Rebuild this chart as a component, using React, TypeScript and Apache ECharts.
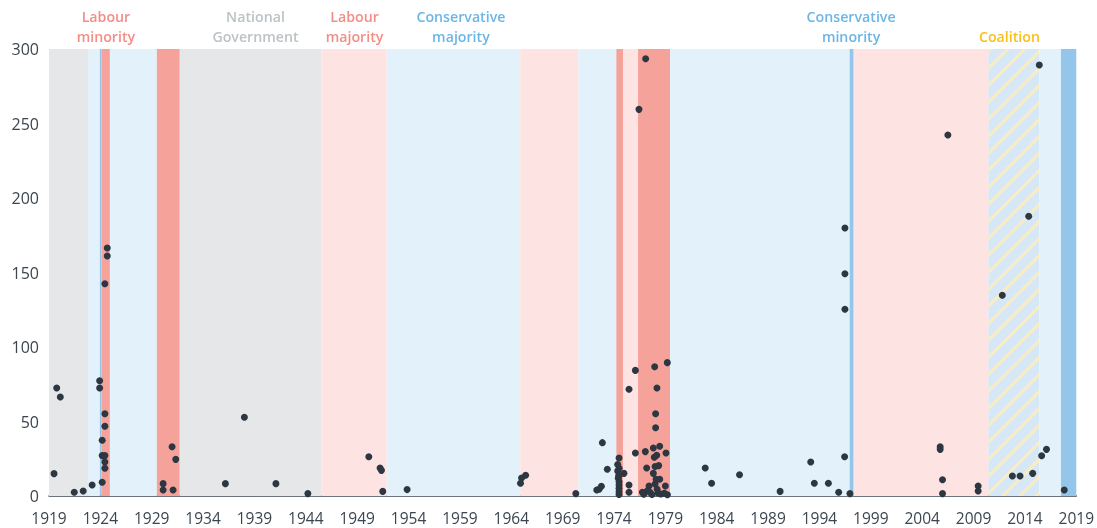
import React, { useEffect, useRef } from "react";
import * as echarts from "echarts";

// ---- Data ----
const tickYears = [1919, 1924, 1929, 1934, 1939, 1944, 1949, 1954, 1959, 1964, 1969, 1974, 1979, 1984, 1989, 1994, 1999, 2004, 2009, 2014, 2019];
const yTicks = [0, 50, 100, 150, 200, 250, 300];

const bandStart = [1919.0, 1922.8, 1923.95, 1924.12, 1924.93, 1929.5, 1931.73, 1945.53, 1951.88, 1964.87, 1970.54, 1974.23, 1974.88, 1976.34, 1979.45, 1996.94, 1997.33, 2010.45, 2015.4, 2017.51];
const bandEnd = [1922.8, 1923.95, 1924.12, 1924.93, 1929.5, 1931.73, 1945.53, 1951.88, 1964.87, 1970.54, 1974.23, 1974.88, 1976.34, 1979.45, 1996.94, 1997.33, 2010.45, 2015.4, 2017.51, 2019.0];
const bandType = ["national", "conMaj", "conMin", "labMin", "conMaj", "labMin", "national", "labMaj", "conMaj", "labMaj", "conMaj", "labMin", "labMaj", "labMin", "conMaj", "conMin", "labMaj", "coalition", "conMaj", "conMin"];

const labelYears = [1924.54, 1939.1, 1948.74, 1959.1, 1997.08, 2012.49];
const labelLine1 = ["Labour", "National", "Labour", "Conservative", "Conservative", ""];
const labelLine2 = ["minority", "Government", "majority", "majority", "minority", "Coalition"];
const labelKinds = ["lab", "nat", "lab", "con", "con", "coal"];

const points: [number, number][] = [
  [1919.49, 15], [1919.75, 72.5], [1920.1, 66.5], [1921.46, 2.5], [1922.33, 3.4], [1923.2, 7.4],
  [1923.93, 77.4], [1923.93, 72.5], [1924.18, 9.2], [1924.18, 37.4], [1924.18, 27.1], [1924.44, 27.1],
  [1924.44, 22.8], [1924.44, 18.6], [1924.44, 46.8], [1924.44, 55.2], [1924.44, 142.5], [1924.67, 161.1], [1924.67, 166.4],
  [1930.11, 8.3], [1930.11, 4.0], [1930.98, 33.1], [1931.34, 24.6], [1931.08, 4.0],
  [1936.17, 8.3], [1938.02, 52.8], [1941.09, 8.3], [1944.2, 1.6],
  [1950.13, 26.4], [1951.23, 18.8], [1951.36, 17.2], [1951.49, 3.1], [1953.86, 4.3],
  [1964.9, 8.5], [1965.0, 12.1], [1965.4, 13.9], [1970.28, 1.6],
  [1972.32, 4.0], [1972.55, 4.5], [1972.77, 6.5], [1972.87, 35.8], [1973.35, 17.9],
  [1974.49, 25.5], [1974.36, 21.2], [1974.5, 18.6], [1974.36, 16.8], [1974.45, 13.5], [1974.42, 11.9],
  [1974.49, 9.6], [1974.49, 7.4], [1974.49, 5.2], [1974.49, 2.9], [1974.49, 1.0], [1974.97, 15.2],
  [1975.46, 71.6], [1975.46, 7.4], [1975.46, 2.5], [1976.08, 84.3], [1976.08, 28.9],
  [1976.43, 259.5], [1977.08, 293.5],
  [1976.76, 2.5], [1976.9, 1.2], [1977.05, 29.8], [1977.18, 18.8], [1977.41, 6.7], [1977.5, 2.5], [1977.7, 1.0],
  [1977.83, 32.2], [1977.83, 15.2], [1977.92, 26.0], [1977.96, 86.8], [1978.0, 19.8], [1978.0, 8.1],
  [1978.05, 55.2], [1978.05, 45.8], [1978.1, 11.2], [1978.16, 27.3], [1978.18, 72.5], [1978.3, 1.8],
  [1978.35, 20.4], [1978.45, 33.4], [1978.45, 11.2], [1978.55, 1.3], [1978.9, 1.8], [1979.0, 6.7],
  [1979.06, 28.9], [1979.19, 89.5], [1979.2, 0.8], [1977.25, 3.5], [1978.2, 4.5],
  [1982.88, 18.8], [1983.5, 8.5], [1986.22, 14.3], [1990.17, 3.1], [1993.15, 22.8], [1993.5, 8.5],
  [1994.87, 8.5], [1995.87, 2.5], [1996.45, 26.4], [1996.48, 179.9], [1996.48, 149.2], [1996.48, 125.3],
  [1996.97, 1.6], [2005.75, 33.1], [2005.75, 31.3], [2005.98, 10.9], [2005.98, 1.6], [2006.5, 242.3],
  [2009.45, 6.7], [2009.45, 3.4], [2011.8, 134.7], [2012.78, 13.4], [2013.53, 13.4], [2014.37, 187.7],
  [2014.76, 15.2], [2015.4, 289.3], [2015.63, 27], [2016.1, 31.3], [2017.83, 4.0],
];

// ---- Styles ----
const bandColors: Record<string, string> = {
  national: "#e6e7e8",
  conMaj: "#e3f1fb",
  conMin: "#94c6ec",
  labMaj: "#fde3e2",
  labMin: "#f4a29a",
  coalition: "#d6e8f7",
};
const labelColors: Record<string, string> = {
  lab: "#f38e86",
  nat: "#bcc3c6",
  con: "#6cb6e6",
  coal: "#fbbf1a",
};
const stripeColor = "#f8ecc6";
const textColor = "#3c4650";
const FONT = '"Open Sans", "Noto Sans", sans-serif';

type Pt = [number, number];
function clipPoly(poly: Pt[], f: (p: Pt) => number): Pt[] {
  const out: Pt[] = [];
  const n = poly.length;
  for (let i = 0; i < n; i++) {
    const a = poly[i];
    const b = poly[(i + 1) % n];
    const fa = f(a);
    const fb = f(b);
    if (fa >= 0) out.push(a);
    if (fa >= 0 !== fb >= 0) {
      const t = fa / (fa - fb);
      out.push([a[0] + t * (b[0] - a[0]), a[1] + t * (b[1] - a[1])]);
    }
  }
  return out;
}

export default function App() {
  const ref = useRef<HTMLDivElement>(null);
  useEffect(() => {
    if (!ref.current) return;
    const chart = echarts.init(ref.current, undefined, { renderer: "svg" });
    const labelStyle = (text: string, fill: string) => ({
      text,
      fill,
      fontSize: 14.2,
      fontWeight: 600,
      fontFamily: FONT,
      align: "center",
      verticalAlign: "middle",
    });
    chart.setOption({
      animation: false,
      grid: { left: 49, right: 19, top: 49, bottom: 32, containLabel: false },
      xAxis: {
        type: "value",
        min: 1919,
        max: 2019,
        splitLine: { show: false },
        axisTick: { show: false },
        axisLine: { show: true, lineStyle: { color: textColor, width: 1.5 } },
        axisLabel: {
          customValues: tickYears,
          formatter: (v: number) => String(v),
          color: textColor,
          fontSize: 15.5,
          fontFamily: FONT,
          margin: 14,
        },
      },
      yAxis: {
        type: "value",
        min: 0,
        max: 300,
        interval: 50,
        splitLine: { show: false },
        axisTick: { show: false },
        axisLine: { show: false },
        axisLabel: {
          customValues: yTicks,
          color: textColor,
          fontSize: 16,
          fontFamily: FONT,
          margin: 10,
        },
      },
      series: [
        {
          type: "custom",
          z: 1,
          silent: true,
          data: bandStart.map((s, i) => [s, bandEnd[i]]),
          encode: { x: [0, 1] },
          renderItem: (params: any, api: any) => {
            const s = api.value(0);
            const e = api.value(1);
            const p0 = api.coord([s, 300]);
            const p1 = api.coord([e, 0]);
            const x = p0[0];
            const y = p0[1];
            const w = p1[0] - p0[0];
            const h = p1[1] - p0[1];
            const type = bandType[params.dataIndex];
            const rect = { type: "rect", shape: { x, y, width: w, height: h }, style: { fill: bandColors[type] } };
            if (type !== "coalition") return rect;
            const children: any[] = [rect];
            const period = 17;
            const sw = 4.5;
            const base: Pt[] = [[x, y], [x + w, y], [x + w, y + h], [x, y + h]];
            const cMin = x + y - period;
            const cMax = x + w + y + h;
            for (let c = cMin; c <= cMax; c += period) {
              let poly = clipPoly(base, (p) => p[0] + p[1] - c);
              poly = clipPoly(poly, (p) => c + sw - (p[0] + p[1]));
              if (poly.length >= 3) {
                children.push({ type: "polygon", shape: { points: poly }, style: { fill: stripeColor } });
              }
            }
            return { type: "group", children };
          },
        },
        {
          type: "custom",
          z: 2,
          silent: true,
          data: labelYears.map((y) => [y]),
          encode: { x: 0 },
          renderItem: (params: any, api: any) => {
            const p = api.coord([api.value(0), 300]);
            const i = params.dataIndex;
            const fill = labelColors[labelKinds[i]];
            const children: any[] = [];
            if (labelLine1[i]) {
              children.push({ type: "text", x: p[0], y: p[1] - 32.5, style: labelStyle(labelLine1[i], fill) });
            }
            children.push({ type: "text", x: p[0], y: p[1] - 13, style: labelStyle(labelLine2[i], fill) });
            return { type: "group", children };
          },
        },
        {
          type: "scatter",
          z: 3,
          symbolSize: 7,
          itemStyle: { color: "#2d3741", opacity: 1 },
          data: points,
        },
      ],
    });
    return () => chart.dispose();
  }, []);
  return <div ref={ref} style={{ position: "fixed", left: 0, top: 0, width: 1097, height: 528 }} />;
}
